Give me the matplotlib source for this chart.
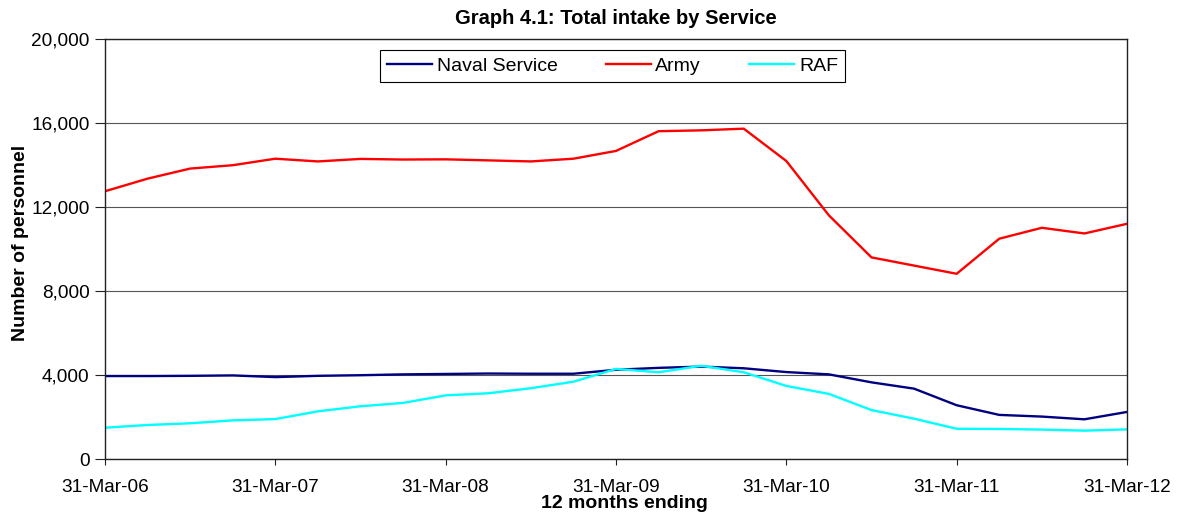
import matplotlib
matplotlib.use("Agg")
import matplotlib.pyplot as plt
from matplotlib.ticker import FuncFormatter, MultipleLocator

plt.rcParams['font.family'] = ['Liberation Sans', 'DejaVu Sans']

# Quarterly points, 12 months ending 31-Mar-06 ... 31-Mar-12
tick_labels = ["31-Mar-06", "31-Mar-07", "31-Mar-08", "31-Mar-09",
               "31-Mar-10", "31-Mar-11", "31-Mar-12"]

naval = [3950, 3950, 3960, 3980, 3900, 3960, 3990, 4030, 4050, 4070, 4060, 4060,
         4250, 4340, 4400, 4320, 4140, 4030, 3650, 3350, 2560, 2100, 2020, 1890, 2240]
army = [12750, 13350, 13830, 13990, 14300, 14170, 14290, 14260, 14270, 14220, 14170, 14300,
        14670, 15610, 15650, 15730, 14190, 11600, 9600, 9210, 8820, 10490, 11010, 10740, 11200]
raf = [1490, 1620, 1700, 1840, 1900, 2270, 2510, 2670, 3030, 3130, 3370, 3680,
       4290, 4130, 4440, 4130, 3480, 3100, 2330, 1920, 1440, 1430, 1400, 1350, 1410]

series_names = ["Naval Service", "Army", "RAF"]
series_colors = ["#000080", "#FF0000", "#00FFFF"]

fig = plt.figure(figsize=(11.81, 5.19), dpi=100)
ax = fig.add_axes([105/1181, 1 - 459/519, (1127-105)/1181, (459-39)/519])

x = list(range(len(army)))
for vals, name, col in zip([naval, army, raf], series_names, series_colors):
    ax.plot(x, vals, color=col, lw=1.7, label=name, solid_joinstyle='miter')

ax.set_xlim(0, len(army) - 1)
ax.set_ylim(0, 20000)
ax.yaxis.set_major_locator(MultipleLocator(4000))
ax.yaxis.set_major_formatter(FuncFormatter(lambda v, p: f"{int(v):,}"))
ax.set_xticks(x[::4])
ax.set_xticklabels(tick_labels)
ax.grid(axis='y', color='#555555', lw=0.8)
ax.set_axisbelow(True)
for s in ax.spines.values():
    s.set_color('#222222')
    s.set_linewidth(1.0)
ax.tick_params(axis='both', direction='out', width=0.8, labelsize=13.7, colors='#222222', labelcolor='black')
ax.tick_params(axis='x', length=4.5, pad=10)
ax.tick_params(axis='y', length=7, pad=4)

ax.set_title("Graph 4.1: Total intake by Service", fontsize=14.5, fontweight='bold', pad=11)
ax.set_xlabel("12 months ending", fontsize=14, fontweight='bold', va='baseline')
ax.xaxis.set_label_coords(0.508, -0.1167)
ax.set_ylabel("Number of personnel", fontsize=14, fontweight='bold')
ax.yaxis.set_label_coords(-0.074, 0.514)

leg = ax.legend(loc='center', bbox_to_anchor=(612.5/1181, 1 - 66/519), bbox_transform=fig.transFigure,
                ncol=3, fontsize=14, frameon=True, fancybox=False, framealpha=1,
                handlelength=2.3, handletextpad=0.25, columnspacing=2.49, borderpad=0.38,
                borderaxespad=0)
leg.get_frame().set_edgecolor('black')
leg.get_frame().set_linewidth(0.8)

fig.savefig("out.png", dpi=100)
